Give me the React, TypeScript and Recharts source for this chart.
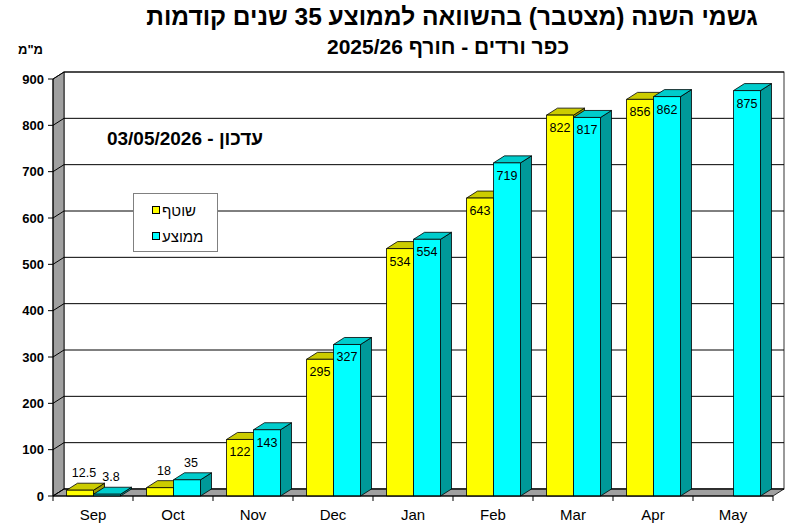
import React from 'react';
import { BarChart, Bar, XAxis, YAxis, CartesianGrid, ReferenceArea, Legend } from 'recharts';

const months = ['Sep', 'Oct', 'Nov', 'Dec', 'Jan', 'Feb', 'Mar', 'Apr', 'May'];
const current: (number | null)[] = [12.5, 18, 122, 295, 534, 643, 822, 856, null];
const average = [3.8, 35, 143, 327, 554, 719, 817, 862, 875];
const yTicks = [0, 100, 200, 300, 400, 500, 600, 700, 800, 900];
const seriesOrder = ['current', 'average'];

const data = months.map((month, i) => ({ month, current: current[i], average: average[i] }));

// depth of the fake 3d box
const DX = 11;
const DY = -7;
const FONT = '"Liberation Sans", Arial, sans-serif';
const WALL = '#a0a0a0';

const Box3D = (props: any) => {
  const { x, y, width, height, front, top, side } = props;
  if (height == null || isNaN(height) || props.value == null) return null;
  const r = x + width;
  const b = y + height;
  return (
    <g stroke="#000" strokeWidth={0.8} strokeLinejoin="round">
      <polygon points={`${r},${y} ${r + DX},${y + DY} ${r + DX},${b + DY} ${r},${b}`} fill={side} />
      <polygon points={`${x},${y} ${r},${y} ${r + DX},${y + DY} ${x + DX},${y + DY}`} fill={top} />
      <rect x={x} y={y} width={width} height={height} fill={front} />
    </g>
  );
};

const BarLabel = (props: any) => {
  const { x, y, width, height, value } = props;
  if (value == null) return null;
  const above = height < 30;
  return (
    <text
      x={x + width / 2 + (above ? 4 : 0)}
      y={above ? y - 17 : y + 13}
      textAnchor="middle"
      dominantBaseline="central"
      fontSize={12.5}
      fontFamily={FONT}
      fill="#000"
    >
      {value}
    </text>
  );
};

const Walls = (props: any) => {
  const { x, y, width, height } = props;
  const b = y + height;
  const r = x + width;
  return (
    <g stroke="#000" strokeWidth={0.8}>
      <rect x={x + DX} y={y + DY} width={width} height={height} fill="none" />
      <polygon points={`${x},${y} ${x + DX},${y + DY} ${x + DX},${b + DY} ${x},${b}`} fill={WALL} />
      <polygon points={`${x},${b} ${x + DX},${b + DY} ${r + DX},${b + DY} ${r},${b}`} fill={WALL} />
    </g>
  );
};

const gridLine = (p: any) => {
  const { x1, y1, x2, key } = p;
  return (
    <polyline
      key={key}
      points={`${x1},${y1} ${x1 + DX},${y1 + DY} ${x2 + DX},${y1 + DY}`}
      fill="none"
      stroke="#000"
      strokeWidth={1}
    />
  );
};

const MonthTick = (p: any) => {
  const { x, y, payload, index, width, visibleTicksCount } = p;
  const band = width / visibleTicksCount;
  return (
    <g>
      <line x1={x - band / 2} y1={y} x2={x - band / 2} y2={y + 5} stroke="#000" />
      {index === visibleTicksCount - 1 && (
        <line x1={x + band / 2} y1={y} x2={x + band / 2} y2={y + 5} stroke="#000" />
      )}
      <text x={x} y={y + 18} textAnchor="middle" dominantBaseline="central" fontSize={15} fontFamily={FONT} fill="#000">
        {payload.value}
      </text>
    </g>
  );
};

const LegendBox = ({ payload }: any) => {
  const items = [...(payload || [])].sort(
    (a: any, b: any) => seriesOrder.indexOf(a.dataKey) - seriesOrder.indexOf(b.dataKey)
  );
  return (
    <div
      style={{
        width: 83,
        height: 54,
        border: '1px solid #808080',
        background: '#fff',
        fontFamily: FONT,
        fontSize: 15,
        boxSizing: 'content-box',
        paddingTop: 3,
      }}
    >
      {items.map((item: any) => (
        <div key={item.value} style={{ display: 'flex', alignItems: 'center', height: 26, paddingLeft: 18 }}>
          <span style={{ width: 6, height: 6, border: '1px solid #000', background: item.color, marginRight: 2 }} />
          <span dir="rtl">{item.value}</span>
        </div>
      ))}
    </div>
  );
};

const App = () => (
  <div style={{ position: 'relative', width: 800, height: 530, background: '#fff', fontFamily: FONT }}>
    <style>{'body{margin:0}'}</style>
    <div
      dir="rtl"
      style={{ position: 'absolute', left: 452, top: 3, transform: 'translateX(-50%)', whiteSpace: 'nowrap', fontSize: 24.5, fontWeight: 'bold' }}
    >
      גשמי השנה (מצטבר) בהשוואה לממוצע 35 שנים קודמות
    </div>
    <div
      dir="rtl"
      style={{ position: 'absolute', left: 448, top: 35, transform: 'translateX(-50%)', whiteSpace: 'nowrap', fontSize: 21, fontWeight: 'bold' }}
    >
      כפר ורדים - חורף 2025/26
    </div>
    <div style={{ position: 'absolute', left: 18, top: 42, fontSize: 13, fontWeight: 'bold' }}>מ"מ</div>
    <div
      dir="rtl"
      style={{ position: 'absolute', left: 185, top: 128, transform: 'translateX(-50%)', whiteSpace: 'nowrap', fontSize: 19, fontWeight: 'bold' }}
    >
      עדכון - 03/05/2026
    </div>
    <BarChart
      width={800}
      height={530}
      data={data}
      margin={{ top: 79, right: 27, bottom: 0, left: 8 }}
      barCategoryGap={13.5}
      barGap={0}
      style={{ position: 'absolute', left: 0, top: 0 }}
    >
      <ReferenceArea y1={0} y2={900} shape={<Walls />} zIndex={-200} />
      <CartesianGrid vertical={false} horizontal={gridLine} />
      <XAxis
        dataKey="month"
        interval={0}
        height={34}
        tickSize={0}
        tickMargin={0}
        tickLine={false}
        axisLine={{ stroke: '#000' }}
        tick={<MonthTick />}
      />
      <YAxis
        domain={[0, 900]}
        ticks={yTicks}
        interval={0}
        width={45}
        tickSize={5}
        tickMargin={4}
        axisLine={{ stroke: '#000' }}
        tickLine={{ stroke: '#000' }}
        tick={{ fill: '#000', fontSize: 13, fontWeight: 'bold', fontFamily: FONT }}
      />
      <Legend
        layout="vertical"
        align="center"
        verticalAlign="middle"
        content={<LegendBox />}
        wrapperStyle={{ position: 'absolute', left: 133, top: 193, width: 85 }}
      />
      <Bar
        dataKey="current"
        name="שוטף"
        fill="#ffff00"
        isAnimationActive={false}
        shape={(p: any) => <Box3D {...p} front="#ffff00" top="#cccc00" side="#999900" />}
        label={BarLabel}
      />
      <Bar
        dataKey="average"
        name="ממוצע"
        fill="#00ffff"
        isAnimationActive={false}
        shape={(p: any) => <Box3D {...p} front="#00ffff" top="#00cccc" side="#009999" />}
        label={BarLabel}
      />
    </BarChart>
  </div>
);

export default App;
